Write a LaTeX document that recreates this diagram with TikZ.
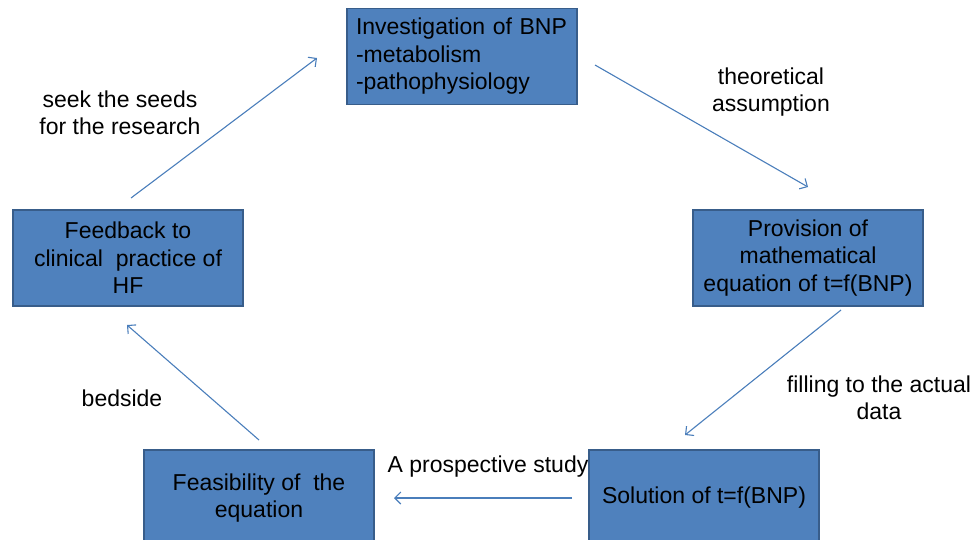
\documentclass[tikz,border=0pt]{standalone}
\usepackage{fontspec}
\setmainfont{Liberation Sans}
\usetikzlibrary{arrows.meta}
\definecolor{boxfill}{HTML}{4F81BD}
\definecolor{boxline}{HTML}{385D8A}
\definecolor{arrowc}{HTML}{4A7EBB}
\begin{document}
\begin{tikzpicture}[x=1pt,y=-1pt,
  box/.style={draw=boxline, line width=1.2pt, fill=boxfill, minimum width=230pt, minimum height=96pt, inner sep=0pt, align=center, font=\fontsize{23}{27.5}\selectfont},
  lbl/.style={align=center, inner sep=0pt, font=\fontsize{23}{27}\selectfont},
  conn/.style={draw=arrowc, line width=1.1pt, -{Straight Barb[length=6pt,width=12pt]}}]
\useasboundingbox (0,0) rectangle (977,539);
\node[box, text width=212pt, align=left] (inv) at (462,56.5) {Investigation of BNP\\-metabolism\\-pathophysiology};
\node[box] (prov) at (808,258) {Provision of\\mathematical\\equation of t=f(BNP)};
\node[box] (sol) at (704,498) {Solution of t=f(BNP)};
\node[box] (feas) at (259,498) {Feasibility of\ \ the\\equation};
\node[box] (feed) at (128,258) {Feedback to\\clinical\ \ practice of\\HF};
\node[lbl] (l1) at (120,113) {seek the seeds\\for the research};
\node[lbl] (l2) at (771,92) {theoretical\\assumption};
\node[lbl] (l3) at (879,398) {filling to the actual\\data};
\node[lbl] (l4) at (122,398) {bedside};
\node[lbl] (l5) at (488,467) {A prospective study};
\coordinate (a1s) at (595,65);  \coordinate (a1e) at (808,187);
\coordinate (a2s) at (841,310); \coordinate (a2e) at (685,435);
\coordinate (a3s) at (572,498); \coordinate (a3e) at (394,498);
\coordinate (a4s) at (259,440); \coordinate (a4e) at (127,325);
\coordinate (a5s) at (131,198); \coordinate (a5e) at (317,58);
\draw[conn] (a1s) -- (a1e);
\draw[conn] (a2s) -- (a2e);
\draw[conn] (a3s) -- (a3e);
\draw[conn] (a4s) -- (a4e);
\draw[conn] (a5s) -- (a5e);
\end{tikzpicture}
\end{document}
